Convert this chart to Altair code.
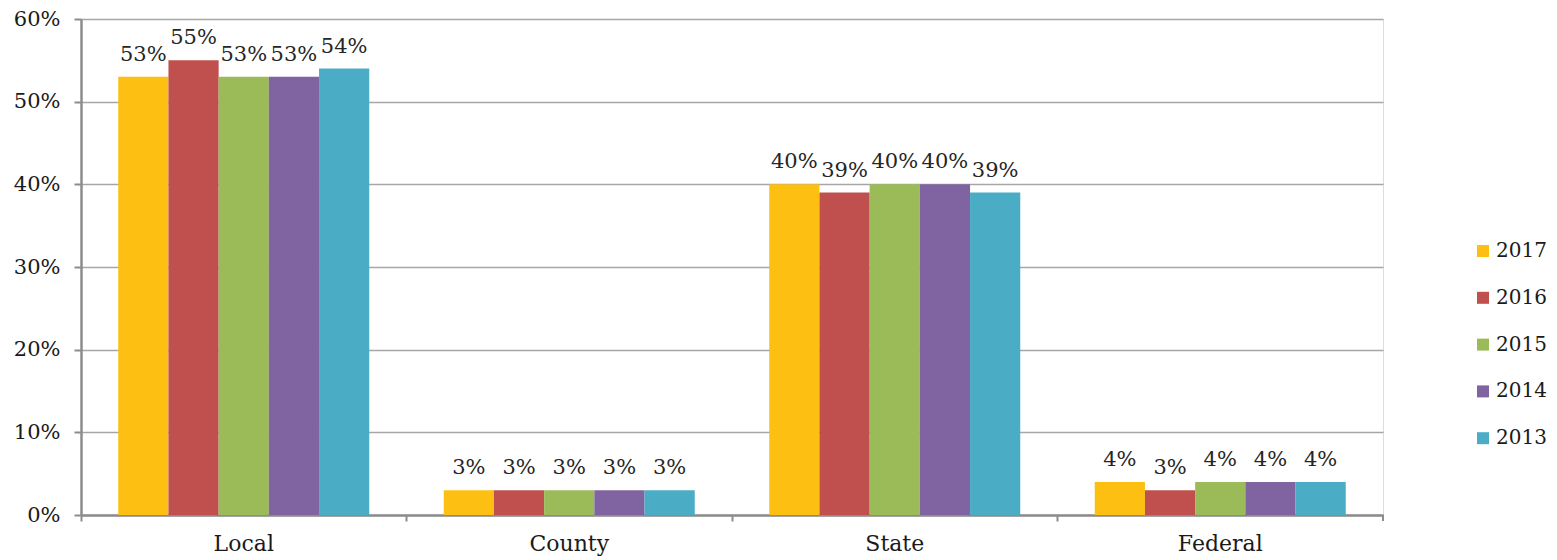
import altair as alt
import pandas as pd

categories = ["Local", "County", "State", "Federal"]
years = ["2017", "2016", "2015", "2014", "2013"]
local = [53, 55, 53, 53, 54]
county = [3, 3, 3, 3, 3]
state = [40, 39, 40, 40, 39]
federal = [4, 3, 4, 4, 4]
colors = ["#FCBF12", "#C0504D", "#9BBB59", "#8064A2", "#4BACC6"]
y_ticks = [0, 10, 20, 30, 40, 50, 60]

rows = []
for cat, vals in zip(categories, [local, county, state, federal]):
    for yr, v in zip(years, vals):
        rows.append({"cat": cat, "year": yr, "value": v, "label": f"{v}%"})
df = pd.DataFrame(rows)

FONT = "DejaVu Serif"
W, H = 1302, 496

x = alt.X("cat:N", sort=categories, title=None,
          scale=alt.Scale(paddingInner=0, paddingOuter=0),
          axis=alt.Axis(bandPosition=0, labelOffset=0, tickSize=6,
                        tickColor="#8c8c8c", tickWidth=2, domainColor="#8c8c8c",
                        domainWidth=2.5, labelFont=FONT, labelFontSize=22,
                        labelColor="#1a1a1a", labelPadding=12, labelAngle=0,
                        grid=False))
xo = alt.XOffset("year:N", sort=years,
                 scale=alt.Scale(paddingInner=0, paddingOuter=0.742))
y = alt.Y("value:Q", title=None,
          scale=alt.Scale(domain=[0, 60], nice=False),
          axis=alt.Axis(values=y_ticks, labelExpr="datum.value + '%'",
                        labelFont=FONT, labelFontSize=21, labelColor="#1a1a1a",
                        tickSize=7, tickColor="#8c8c8c", tickWidth=2,
                        domainColor="#8c8c8c", domainWidth=2.5, labelPadding=14,
                        gridColor="#a6a6a6", gridWidth=1.5))
color = alt.Color("year:N", sort=years,
                  scale=alt.Scale(domain=years, range=colors),
                  legend=alt.Legend(title=None, orient="none", legendX=1392,
                                    legendY=222, symbolType="square",
                                    symbolSize=144, symbolStrokeWidth=0,
                                    labelFont=FONT, labelFontSize=20,
                                    labelColor="#1a1a1a", rowPadding=26.8,
                                    labelOffset=3))

base = alt.Chart(df)
bars = base.mark_bar().encode(x=x, xOffset=xo, y=y, color=color)
text = base.mark_text(baseline="alphabetic", dy=-16, font=FONT, fontSize=21,
                      color="#262626").encode(
    x=alt.X("cat:N", sort=categories), xOffset=xo, y="value:Q", text="label:N")
end_tick = alt.Chart(pd.DataFrame({"v": [0]})).mark_rule(
    color="#8c8c8c", strokeWidth=2).encode(
    x=alt.value(W), y=alt.value(H), y2=alt.value(H + 6))

chart = alt.layer(bars, text, end_tick).properties(
    width=W, height=H,
    autosize=alt.AutoSizeParams(type="none"),
    padding={"left": 81, "top": 19, "right": 174, "bottom": 45},
).configure_view(strokeWidth=0).configure(background="white")

chart.save("out.html", embed_options={"renderer": "svg", "actions": False})
